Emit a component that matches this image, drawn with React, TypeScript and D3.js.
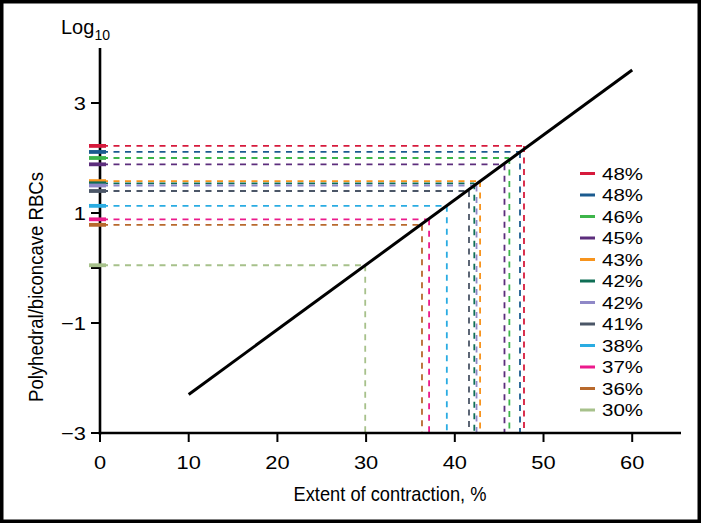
import React from "react";
import * as d3 from "d3";

const labels = ["48%", "48%", "46%", "45%", "43%", "42%", "42%", "41%", "38%", "37%", "36%", "30%"];
const colors = ["#d61a3c", "#1b5b8f", "#3db54a", "#5c2d7c", "#f7941d", "#0f6e55", "#8f88c7", "#4b5667", "#2aace2", "#ec1a8c", "#b8692c", "#a7c18b"];
const contraction = [47.8, 47.35, 46.15, 45.6, 42.85, 42.2, 42.45, 41.6, 39.1, 37.1, 36.3, 29.9];
const logRatio = [2.22, 2.11, 2.0, 1.885, 1.58, 1.54, 1.5, 1.4, 1.13, 0.885, 0.785, 0.05];
const fitX = [10, 60];
const fitY = [-2.3, 3.6];
const xTicks = [0, 10, 20, 30, 40, 50, 60];
const yTicks = [3, 1, 0, -1, -3];
const yTickLabels = ["3", "1", "", "\u22121", "\u22123"];

const W = 701;
const H = 523;

export default function App() {
  const x = d3.scaleLinear().domain([0, 65.5]).range([100, 681]);
  const y = d3.scaleLinear().domain([-3, 4]).range([433, 48]);
  const line = d3.line<number>().x((d) => x(fitX[d])).y((d) => y(fitY[d]));
  const font = "'Liberation Sans', Arial, Helvetica, sans-serif";
  const legendY0 = 173.5;
  const legendStep = 21.5;

  return (
    <svg
      width={W}
      height={H}
      style={{ position: "absolute", left: 0, top: 0, background: "#fff" }}
      fontFamily={font}
    >
      <rect x={1.75} y={1.75} width={W - 3.5} height={H - 3.5} fill="#fff" stroke="#000" strokeWidth={3.5} />

      {/* dashed guide lines */}
      {contraction.map((c, i) => (
        <g key={"g" + i} stroke={colors[i]} strokeWidth={1.8} strokeDasharray="6 5.5" fill="none">
          <line x1={x(0) + 2} x2={x(c)} y1={y(logRatio[i])} y2={y(logRatio[i])} />
          <line x1={x(c)} x2={x(c)} y1={y(logRatio[i])} y2={y(-3)} />
        </g>
      ))}

      {/* axes */}
      <line x1={x(0)} x2={x(0)} y1={48} y2={y(-3) + 1.5} stroke="#000" strokeWidth={2.6} />
      <line x1={x(0) - 1.3} x2={x(65.5)} y1={y(-3)} y2={y(-3)} stroke="#000" strokeWidth={2.6} />
      {xTicks.map((t) => (
        <g key={"xt" + t}>
          <line x1={x(t)} x2={x(t)} y1={y(-3)} y2={y(-3) + 9} stroke="#000" strokeWidth={2} />
          <text
            transform={`translate(${x(t)},${469}) scale(1.15,1)`}
            textAnchor="middle"
            fontSize={19}
            fill="#000"
          >
            {t}
          </text>
        </g>
      ))}
      {yTicks.map((t, i) => (
        <g key={"yt" + t}>
          <line x1={x(0) - 9} x2={x(0)} y1={y(t)} y2={y(t)} stroke="#000" strokeWidth={2} />
          <text
            transform={`translate(${x(0) - 14},${y(t) + 6.8}) scale(1.15,1)`}
            textAnchor="end"
            fontSize={19}
            fill="#000"
          >
            {yTickLabels[i]}
          </text>
        </g>
      ))}

      {/* fit line */}
      <path d={line([0, 1]) || ""} stroke="#000" strokeWidth={3} fill="none" />

      {/* colored markers on y axis */}
      {logRatio.map((v, i) => (
        <rect key={"m" + i} x={89} y={y(v) - 1.9} width={17} height={3.8} fill={colors[i]} />
      ))}

      {/* legend */}
      {labels.map((l, i) => (
        <g key={"l" + i}>
          <rect x={580} y={legendY0 + i * legendStep - 1.5} width={15} height={3} fill={colors[i]} />
          <text x={602} y={legendY0 + i * legendStep + 6} fontSize={16.5} textLength={41} lengthAdjust="spacingAndGlyphs" fill="#000">
            {l}
          </text>
        </g>
      ))}

      {/* titles */}
      <text x={61} y={34} fontSize={20} fill="#000">
        Log
        <tspan fontSize={14} dy={6}>10</tspan>
      </text>
      <text
        x={390}
        y={501}
        textAnchor="middle"
        fontSize={21}
        textLength={193}
        lengthAdjust="spacingAndGlyphs"
        fill="#000"
      >
        Extent of contraction, %
      </text>
      <text
        transform={`translate(43,287) rotate(-90)`}
        textAnchor="middle"
        fontSize={20.5}
        textLength={230}
        lengthAdjust="spacingAndGlyphs"
        fill="#000"
      >
        Polyhedral/biconcave RBCs
      </text>
    </svg>
  );
}
